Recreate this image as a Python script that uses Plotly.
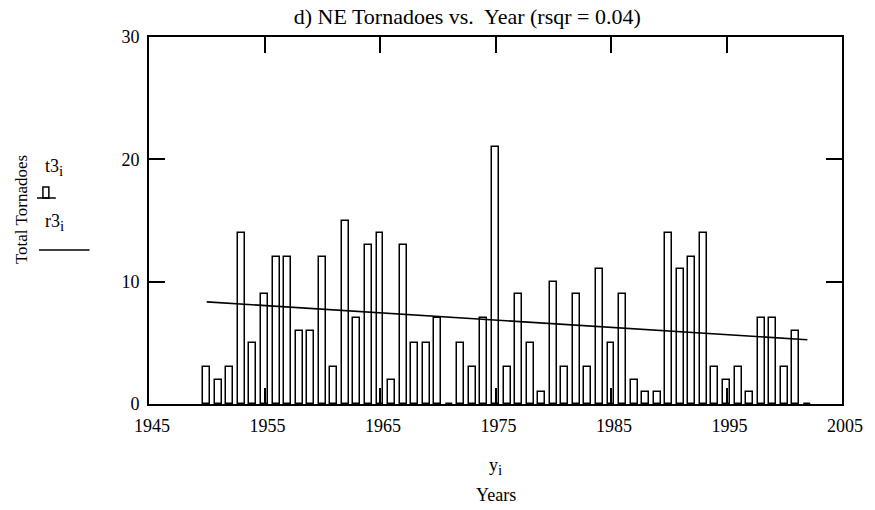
import plotly.graph_objects as go

# ---- data ----
years = list(range(1950, 2003))
tornadoes = [3, 2, 3, 14, 5, 9, 12, 12, 6, 6,
             12, 3, 15, 7, 13, 14, 2, 13, 5, 5,
             7, 0, 5, 3, 7, 21, 3, 9, 5, 1,
             10, 3, 9, 3, 11, 5, 9, 2, 1, 1,
             14, 11, 12, 14, 3, 2, 3, 1, 7, 7,
             3, 6, 0]
trend_years = [1950, 2002]
trend_values = [8.35, 5.25]
x_ticks = [1945, 1955, 1965, 1975, 1985, 1995, 2005]
y_ticks = [0, 10, 20, 30]

FONT = "Liberation Serif, Times New Roman, serif"
W, H = 875, 510
L, R, T, B = 149, 848, 37, 404


def px(xp):
    return (xp - L) / (R - L)


def py(yp):
    return (B - yp) / (B - T)


fig = go.Figure()
fig.add_trace(go.Bar(
    x=years, y=tornadoes, width=0.6,
    marker=dict(color="white", line=dict(color="black", width=1.5)),
    showlegend=False, hoverinfo="skip",
))
fig.add_trace(go.Scatter(
    x=trend_years, y=trend_values, mode="lines",
    line=dict(color="black", width=1.6), showlegend=False, hoverinfo="skip",
))

axis_common = dict(
    showline=True, linecolor="black", linewidth=2, mirror="ticks",
    ticks="inside", ticklen=16, tickwidth=1.5, tickcolor="black",
    showgrid=False, zeroline=False,
    tickfont=dict(family=FONT, size=18, color="black"),
)
fig.update_xaxes(range=[1945, 2005], tickvals=x_ticks, ticklabelstandoff=4,
                 ticklabelshift=3, **axis_common)
fig.update_yaxes(range=[0, 30], tickvals=y_ticks, ticklabelstandoff=4, **axis_common)

sub = "<sub><span style='font-size:15px'>i</span></sub>"
ann = []
ann.append(dict(text="Total Tornadoes", textangle=-90, xref="paper", yref="paper",
                x=px(20), y=py(210), xanchor="center", yanchor="middle", showarrow=False,
                font=dict(family=FONT, size=17, color="black")))
ann.append(dict(text="t3" + sub, xref="paper", yref="paper",
                x=px(42), y=py(167), xanchor="left", yanchor="middle", showarrow=False,
                font=dict(family=FONT, size=18, color="black")))
ann.append(dict(text="r3" + sub, xref="paper", yref="paper",
                x=px(42), y=py(222), xanchor="left", yanchor="middle", showarrow=False,
                font=dict(family=FONT, size=18, color="black")))
ann.append(dict(text="y" + sub, xref="paper", yref="paper",
                x=0.5, y=py(466), xanchor="center", yanchor="middle", showarrow=False,
                font=dict(family=FONT, size=18, color="black")))
ann.append(dict(text="Years", xref="paper", yref="paper",
                x=0.5, y=py(495), xanchor="center", yanchor="middle", showarrow=False,
                font=dict(family=FONT, size=18, color="black")))

shapes = [
    dict(type="rect", xref="paper", yref="paper", x0=px(42), x1=px(48), y0=py(198), y1=py(187),
         line=dict(color="black", width=1.5), fillcolor="white"),
    dict(type="line", xref="paper", yref="paper", x0=px(36), x1=px(55), y0=py(198), y1=py(198),
         line=dict(color="black", width=1.5)),
    dict(type="line", xref="paper", yref="paper", x0=px(38), x1=px(89), y0=py(250), y1=py(250),
         line=dict(color="black", width=1.5)),
]

fig.update_layout(
    width=W, height=H,
    margin=dict(l=L, r=W - R, t=T, b=H - B),
    paper_bgcolor="white", plot_bgcolor="white",
    title=dict(text="d) NE Tornadoes vs.\u00a0 Year (rsqr = 0.04)", xref="paper", x=px(470),
               xanchor="center", yref="container", y=1 - 16 / H, yanchor="middle",
               font=dict(family=FONT, size=22, color="black")),
    annotations=ann, shapes=shapes, bargap=0,
)

fig.write_html("out.html", config={"displayModeBar": False},
               post_script="document.body.style.margin='0';")
